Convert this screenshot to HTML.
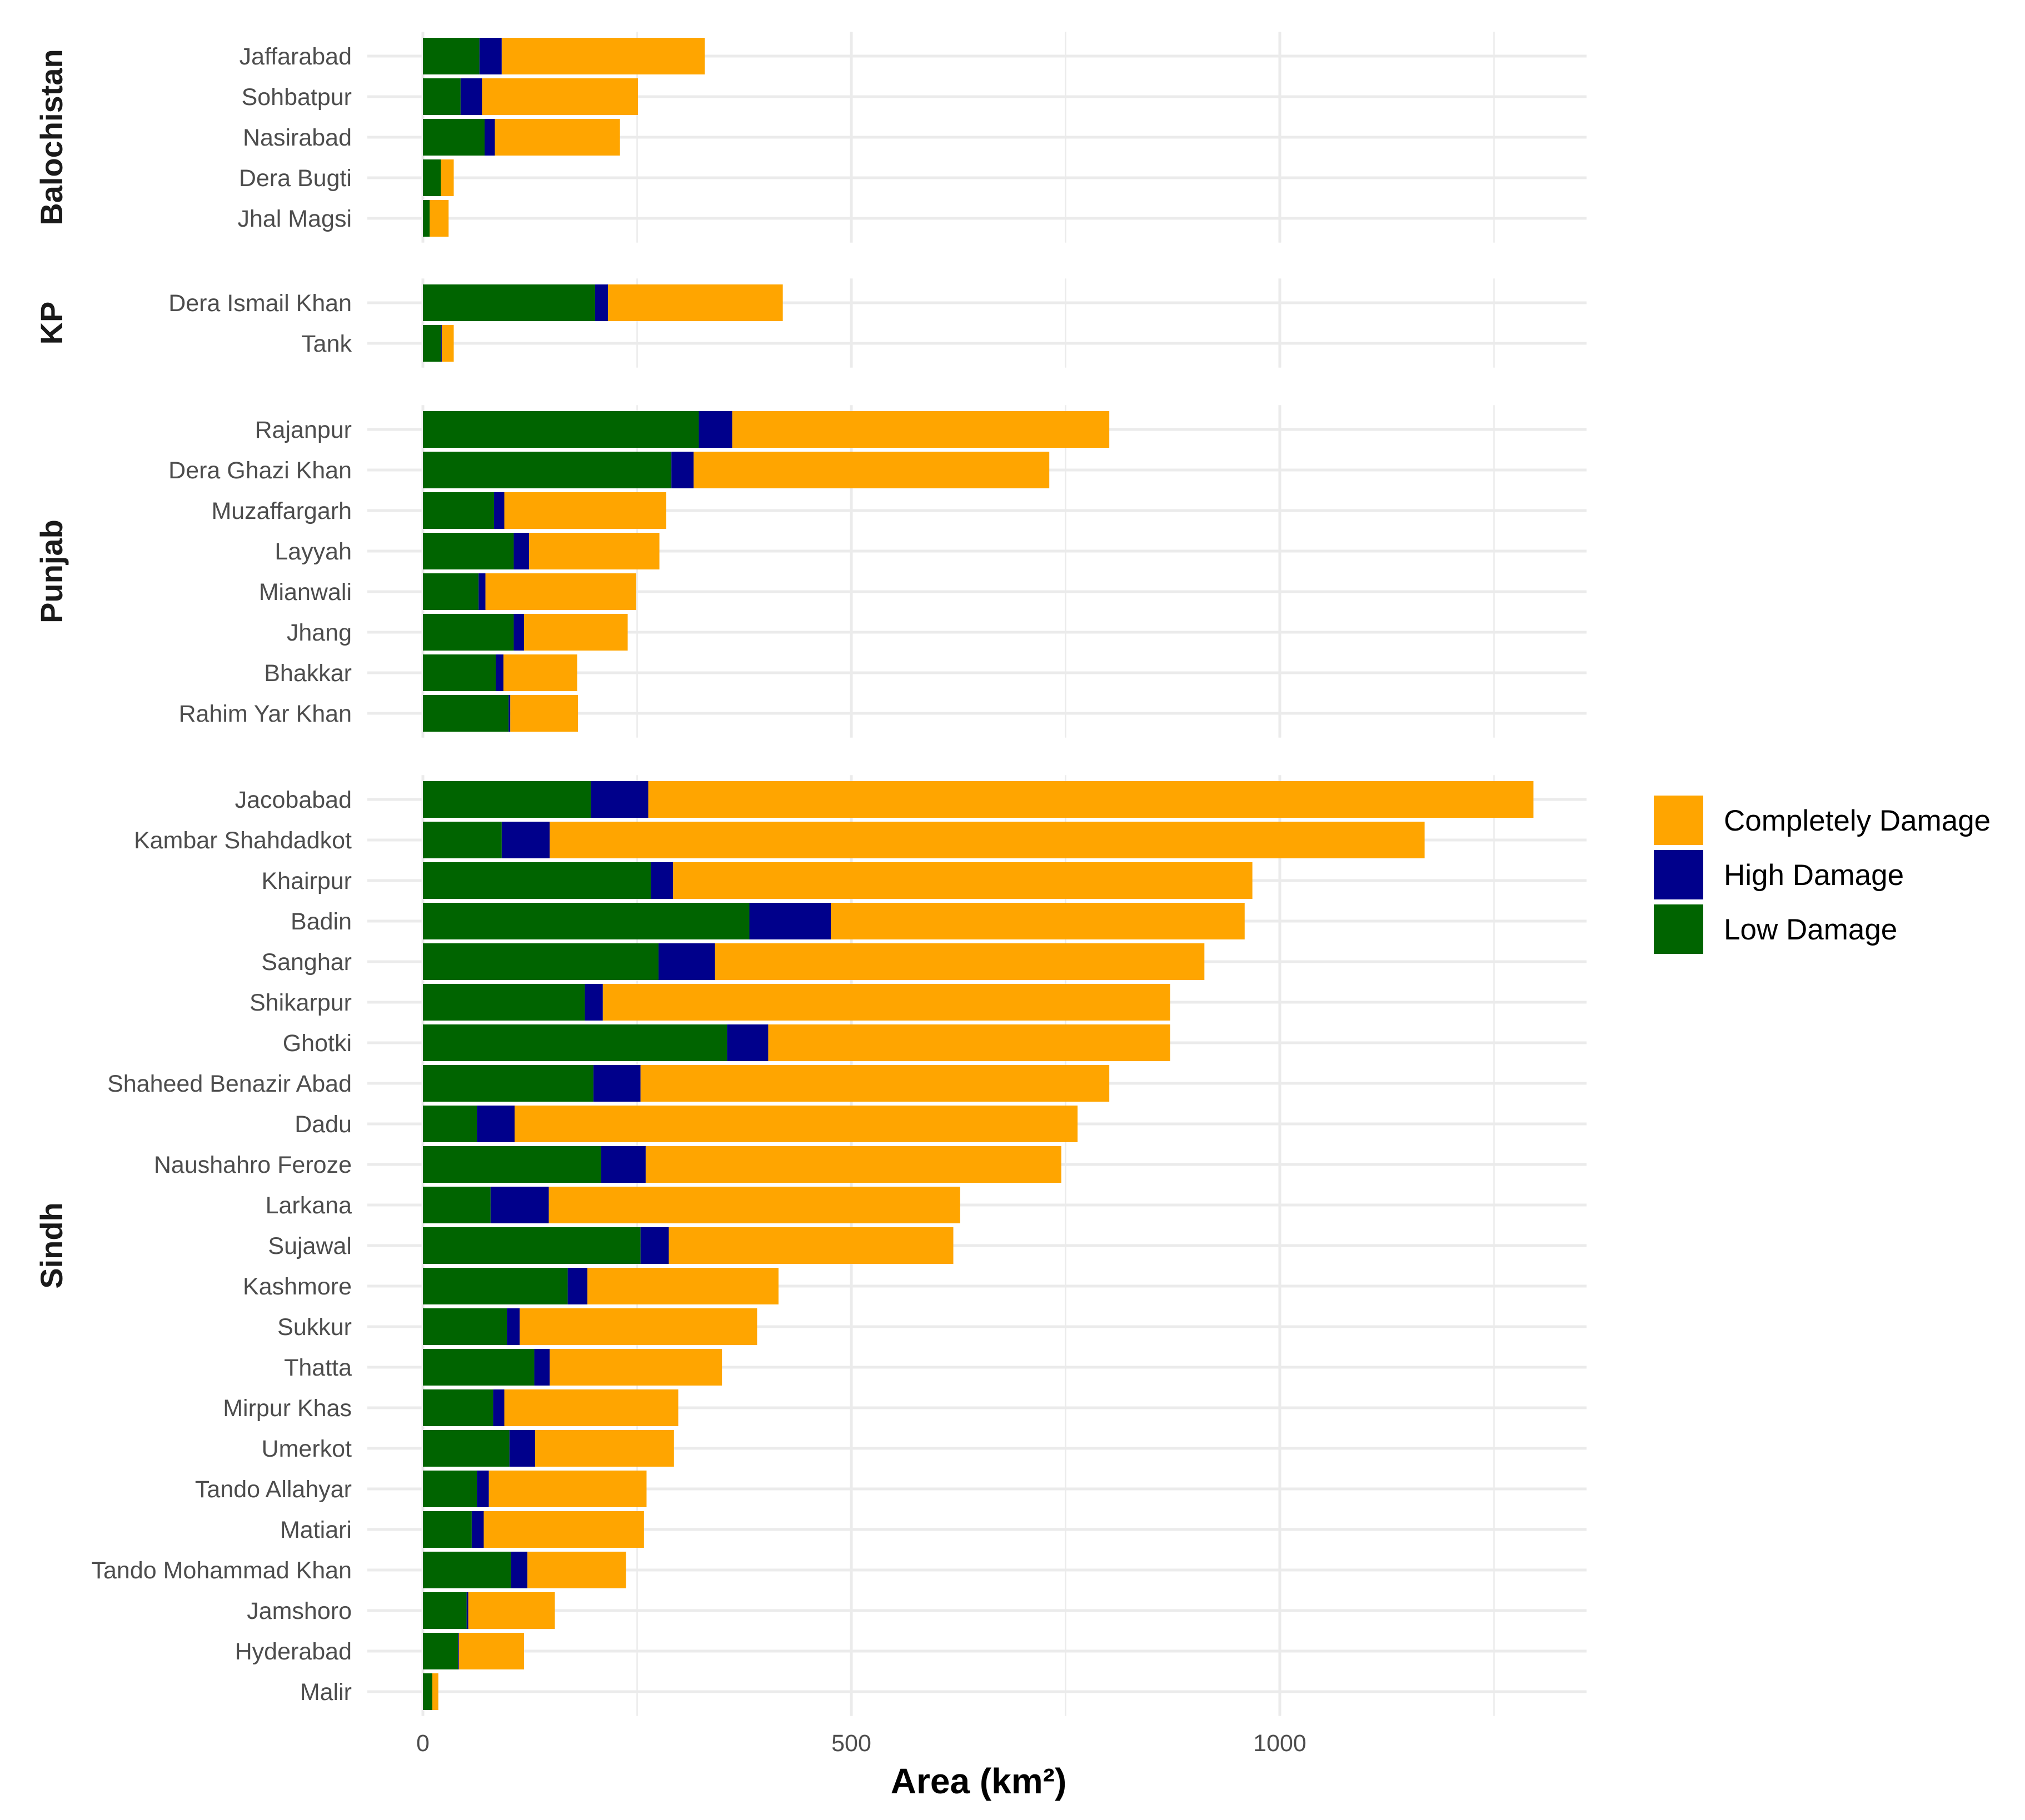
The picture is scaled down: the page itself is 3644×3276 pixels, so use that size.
<!DOCTYPE html>
<html><head><meta charset="utf-8">
<style>html,body{margin:0;padding:0;background:#fff;}svg{display:block;font-family:"Liberation Sans",sans-serif;}</style>
</head><body>
<svg id="chart" width="3644" height="3276" viewBox="0 0 3644 3276" xmlns="http://www.w3.org/2000/svg">
<g id="grid"></g><g id="bars"></g><g id="labels"></g>
<text x="1761" y="3228" font-size="64" font-weight="bold" text-anchor="middle" fill="#000">Area (km²)</text>
<g>
<rect x="2976" y="1432" width="89" height="89" fill="#FFA500"/>
<text x="3102" y="1495" font-size="53" fill="#000">Completely Damage</text>
<rect x="2976" y="1530" width="89" height="89" fill="#00008B"/>
<text x="3102" y="1593" font-size="53" fill="#000">High Damage</text>
<rect x="2976" y="1628" width="89" height="89" fill="#006400"/>
<text x="3102" y="1691" font-size="53" fill="#000">Low Damage</text>
</g>
</svg>
<script>
const provinces = ["Balochistan","KP","Punjab","Sindh"];
const districts = [
["Jaffarabad","Sohbatpur","Nasirabad","Dera Bugti","Jhal Magsi"],
["Dera Ismail Khan","Tank"],
["Rajanpur","Dera Ghazi Khan","Muzaffargarh","Layyah","Mianwali","Jhang","Bhakkar","Rahim Yar Khan"],
["Jacobabad","Kambar Shahdadkot","Khairpur","Badin","Sanghar","Shikarpur","Ghotki","Shaheed Benazir Abad","Dadu","Naushahro Feroze","Larkana","Sujawal","Kashmore","Sukkur","Thatta","Mirpur Khas","Umerkot","Tando Allahyar","Matiari","Tando Mohammad Khan","Jamshoro","Hyderabad","Malir"]
];
const lowDamage = [
[66,44,72,21,8],[201,21],
[322,290,83,106,65,106,85,100],
[196,92,266,381,275,189,355,199,63,208,79,254,169,98,130,82,101,63,57,103,51,41,11]
];
const highDamage = [
[26,25,12,0,0],[15,1],
[39,26,12,18,8,12,9,2],
[67,56,26,95,66,21,48,55,44,52,68,33,23,15,18,13,30,14,14,19,2,1,0]
];
const completeDamage = [
[237,182,146,15,22],[204,14],
[440,415,189,152,176,121,86,79],
[1033,1021,676,483,571,662,469,547,657,485,480,332,223,277,201,203,162,184,187,115,101,76,7]
];
const xTicks = [0,500,1000];
const xMinor = [250,750,1250];
const firstRowY = [101,545,773,1439];

const NS="http://www.w3.org/2000/svg";
const X0=761, PX=1.542, STEP=73, BH=66, GL=661, GR=2855;
const xs=v=>X0+v*PX;
function mk(tag,attrs,parent){const e=document.createElementNS(NS,tag);for(const k in attrs)e.setAttribute(k,attrs[k]);parent.appendChild(e);return e;}
const grid=document.getElementById('grid'),bars=document.getElementById('bars'),labels=document.getElementById('labels');
provinces.forEach((p,pi)=>{
  const n=districts[pi].length;
  const top=firstRowY[pi]-STEP*0.6, bot=firstRowY[pi]+STEP*(n-1)+STEP*0.6;
  xMinor.forEach(t=>{const l=mk('line',{x1:xs(t),x2:xs(t),y1:top,y2:bot,stroke:'#ebebeb','stroke-width':2.5},grid);
    
    });
  xTicks.forEach(t=>{const l=mk('line',{x1:xs(t),x2:xs(t),y1:top,y2:bot,stroke:'#ebebeb','stroke-width':5},grid);
    
    });
  const st=mk('text',{x:0,y:0,'font-size':56,'font-weight':'bold','text-anchor':'middle',fill:'#1a1a1a',transform:`translate(112,${(top+bot)/2}) rotate(-90)`},labels);
  st.textContent=p;
  
  
  districts[pi].forEach((d,i)=>{
    const y=firstRowY[pi]+i*STEP;
    const h=mk('line',{x1:GL,x2:GR,y1:y,y2:y,stroke:'#ebebeb','stroke-width':5},grid);
    
    
    const lo=lowDamage[pi][i], hi=highDamage[pi][i], co=completeDamage[pi][i];
    const segs=[[0,lo,'#006400','low'],[lo,lo+hi,'#00008B','high'],[lo+hi,lo+hi+co,'#FFA500','complete']];
    segs.forEach(s=>{
      const r=mk('rect',{x:xs(s[0]),y:y-BH/2,width:Math.max(0,xs(s[1])-xs(s[0])),height:BH,fill:s[2]},bars);
      
      
    });
    const t=mk('text',{x:633,y:y+15,'font-size':43,'text-anchor':'end',fill:'#4d4d4d'},labels);
    t.textContent=d;
    
    
  });
});
xTicks.forEach(t=>{
  const e=mk('text',{x:xs(t),y:3152,'font-size':43,'text-anchor':'middle',fill:'#4d4d4d'},labels);
  e.textContent=t;
  
  
});
</script>
</body></html>
